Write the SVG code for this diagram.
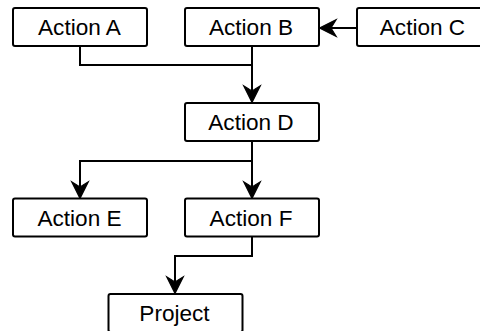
<svg xmlns="http://www.w3.org/2000/svg" width="480" height="331" viewBox="0 0 480 331">
  <defs>
    <style>
      .box { fill: #ffffff; stroke: #000000; stroke-width: 2; }
      .label { font-family: "Liberation Sans", Arial, sans-serif; font-size: 22.6px; fill: #000000; text-anchor: middle; }
      .edge { fill: none; stroke: #000000; stroke-width: 2; marker-end: url(#arrow); }
      .plain { fill: none; stroke: #000000; stroke-width: 2; }
    </style>
    <!-- classic notched arrowhead; the line ends at the notch -->
    <marker id="arrow" markerUnits="userSpaceOnUse" markerWidth="20" markerHeight="20" viewBox="-1 -9 19 18" refX="5" refY="0" orient="auto" overflow="visible">
      <path d="M0,-8 L16,0 L0,8 L5,0 Z" fill="#000000" stroke="#000000" stroke-width="1" stroke-linejoin="miter"/>
    </marker>
  </defs>

  <rect width="480" height="331" fill="#ffffff"/>

  <g id="connectors">
    <!-- A to the shared drop into D -->
    <path class="plain" d="M80,46 V65 H252"/>
    <!-- B down to D -->
    <path class="edge" d="M252,46 V91"/>
    <!-- C into B -->
    <path class="edge" d="M357,28 H331"/>
    <!-- D split to E and F -->
    <path class="edge" d="M252,141 V161 H80 V187"/>
    <path class="edge" d="M252,141 V187"/>
    <!-- F to Project -->
    <path class="edge" d="M252,236.5 V256 H175 V282"/>
  </g>

  <g id="action-a">
    <rect class="box" x="13" y="8" width="134" height="38" rx="2"/>
    <text class="label" x="79.5" y="35">Action A</text>
  </g>
  <g id="action-b">
    <rect class="box" x="185" y="8" width="134" height="38" rx="2"/>
    <text class="label" x="251" y="35">Action B</text>
  </g>
  <g id="action-c">
    <rect class="box" x="357" y="8" width="134" height="38" rx="2"/>
    <text class="label" x="422.5" y="35">Action C</text>
  </g>
  <g id="action-d">
    <rect class="box" x="185" y="103" width="134" height="38" rx="2"/>
    <text class="label" x="251" y="130">Action D</text>
  </g>
  <g id="action-e">
    <rect class="box" x="13" y="198.5" width="134" height="38" rx="2"/>
    <text class="label" x="79.5" y="225.5">Action E</text>
  </g>
  <g id="action-f">
    <rect class="box" x="185" y="198.5" width="134" height="38" rx="2"/>
    <text class="label" x="251" y="225.5">Action F</text>
  </g>
  <g id="project">
    <rect class="box" x="108.5" y="294" width="134" height="38" rx="2"/>
    <text class="label" x="174.5" y="321">Project</text>
  </g>
</svg>
